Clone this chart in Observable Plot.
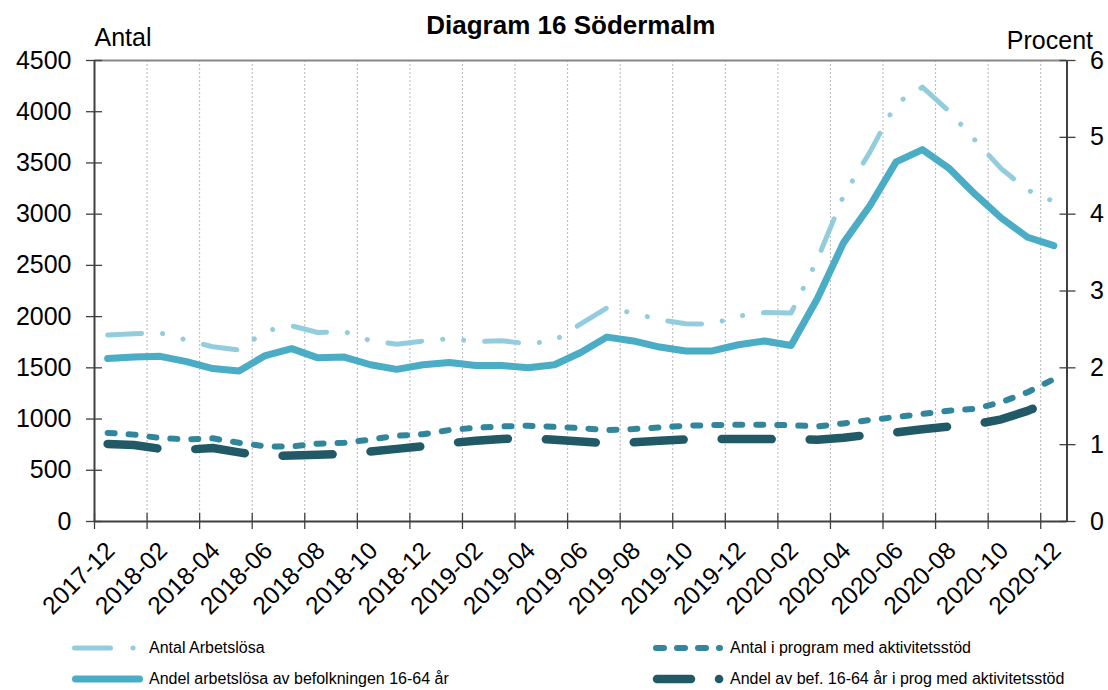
<!DOCTYPE html>
<html><head><meta charset="utf-8">
<script src="https://cdn.jsdelivr.net/npm/d3@7"></script>
<script src="https://cdn.jsdelivr.net/npm/@observablehq/plot@0.6"></script>
<style>
body{margin:0;background:#fff;font-family:"Liberation Sans",Arial,sans-serif;}
#wrap{position:relative;width:1108px;height:690px;overflow:hidden;background:#fff;}
#chart{position:absolute;left:0;top:0;}
.leg{position:absolute;height:20px;display:flex;align-items:center;font-size:16px;color:#000;white-space:nowrap;}
</style></head><body>
<div id="wrap"><div id="chart"></div></div>
<script>
const months = ["2017-12","2018-01","2018-02","2018-03","2018-04","2018-05","2018-06","2018-07","2018-08","2018-09","2018-10","2018-11","2018-12",
  "2019-01","2019-02","2019-03","2019-04","2019-05","2019-06","2019-07","2019-08","2019-09","2019-10","2019-11","2019-12",
  "2020-01","2020-02","2020-03","2020-04","2020-05","2020-06","2020-07","2020-08","2020-09","2020-10","2020-11","2020-12"];
const antalArbetslosa = [1821,1833,1840,1772,1706,1674,1860,1910,1845,1855,1765,1730,1762,1785,1755,1765,1735,1766,1929,2085,2035,1970,1930,1928,2005,2040,2035,2556,3181,3606,4080,4240,4008,3722,3443,3235,3123];
const antalProgram = [865,848,815,802,812,768,734,732,760,768,800,837,852,893,915,928,935,924,912,893,902,918,935,941,944,944,940,928,957,990,1020,1050,1081,1100,1165,1262,1390];
const andelArbetslosa = [2.12,2.14,2.15,2.08,1.99,1.96,2.16,2.25,2.13,2.14,2.04,1.98,2.04,2.07,2.03,2.03,2.00,2.04,2.20,2.40,2.35,2.27,2.22,2.22,2.30,2.35,2.29,2.90,3.63,4.11,4.68,4.84,4.60,4.26,3.95,3.70,3.59];
const andelProgram = [1.01,0.995,0.946,0.935,0.956,0.90,0.85,0.858,0.87,0.88,0.91,0.945,0.98,1.02,1.05,1.075,1.08,1.065,1.04,1.02,1.03,1.05,1.068,1.073,1.073,1.073,1.07,1.065,1.09,1.13,1.16,1.20,1.235,1.265,1.33,1.44,1.58];
const leftTicks = [0,500,1000,1500,2000,2500,3000,3500,4000,4500];
const rightTicks = [0,1,2,3,4,5,6];
const seriesNames = ["Antal Arbetslösa","Antal i program med aktivitetsstöd","Andel arbetslösa av befolkningen 16-64 år","Andel av bef. 16-64 år i prog med aktivitetsstöd"];
const titleText = "Diagram 16 Södermalm";
const leftLabel = "Antal";
const rightLabel = "Procent";

const colors = ["#93CDDD","#31869B","#4BACC6","#215967"];
const dashes = ["34,21,0.1,21,0.1,21","7,14",null,"50,38"];
const widths = [5,6,7,8.5];

const leftMax = leftTicks[leftTicks.length-1];
const rightMax = rightTicks[rightTicks.length-1];
const k = leftMax / rightMax;

const rows = months.map((m,i)=>({i, m, a: antalArbetslosa[i], p: antalProgram[i], s: andelArbetslosa[i]*k, q: andelProgram[i]*k}));
const boundaries = rows.filter(d => d.i % 2 === 0).map(d => d.i - 0.5);
const labelRows = rows.filter(d => d.i % 2 === 0);
const xDomain = [-0.5, months.length - 0.5];
const axisColor = "#404040";
const font = "Liberation Sans, Arial, sans-serif";

const lineOpts = (j) => ({x:"i", stroke: colors[j], strokeWidth: widths[j], strokeDasharray: dashes[j], strokeLinecap:"round", strokeLinejoin:"round"});

const plot = Plot.plot({
  width: 1108, height: 632,
  marginLeft: 94, marginRight: 41.5, marginTop: 60, marginBottom: 111,
  style: {fontFamily: font, background: "#fff", color: "#000", overflow: "visible"},
  x: {type: "linear", domain: xDomain, label: null},
  y: {domain: [0, leftMax], label: null},
  marks: [
    Plot.ruleX(boundaries.slice(1), {stroke: "#b8b8b8", strokeDasharray: "2,2", strokeWidth: 1}),
    Plot.ruleY([leftMax], {stroke: "#888", strokeWidth: 2}),
    Plot.line(rows, {...lineOpts(0), y:"a"}),
    Plot.line(rows, {...lineOpts(1), y:"p"}),
    Plot.line(rows, {...lineOpts(2), y:"s"}),
    Plot.line(rows, {...lineOpts(3), y:"q"}),
    Plot.ruleX(xDomain, {stroke: axisColor, strokeWidth: 2}),
    Plot.ruleY([0], {stroke: axisColor, strokeWidth: 2}),
    Plot.axisX(boundaries, {anchor:"bottom", label:null, tickSize:16, dy:-8, tickFormat: () => "", stroke: axisColor, strokeWidth:1.3}),
    Plot.axisY(leftTicks, {anchor:"left", label:null, tickSize:16, dx:8, tickPadding:15, fontSize:25, stroke: axisColor, strokeWidth:1.3, tickFormat: d3.format("d"), fill:"#000"}),
    Plot.axisY(rightTicks.map(v => v*k), {anchor:"right", label:null, tickSize:16, dx:-8, tickPadding:15, fontSize:25, stroke: axisColor, strokeWidth:1.3, tickFormat: v => String(Math.round(v/k)), fill:"#000"}),
    Plot.text(labelRows, {x:"i", text:"m", frameAnchor:"bottom", dy:25, dx:3, rotate:-45, textAnchor:"end", lineAnchor:"middle", fontSize:24.5, fill:"#000"}),
    Plot.text([leftLabel], {frameAnchor:"top-left", dy:-15, textAnchor:"start", lineAnchor:"bottom", fontSize:25, fill:"#000"}),
    Plot.text([rightLabel], {frameAnchor:"top-right", dx:26, dy:-12, textAnchor:"end", lineAnchor:"bottom", fontSize:25, fill:"#000"}),
    Plot.text([titleText], {frameAnchor:"top", dx:-10, dy:-27, textAnchor:"middle", lineAnchor:"bottom", fontSize:26, fontWeight:"bold", fill:"#000"})
  ]
});
document.getElementById("chart").appendChild(plot);

// Legend
const legendItems = [
  {j:0, left:66, top:638, x1:8.5, x2:75, dash:"36,22.5,0.1,200", text:149},
  {j:1, left:650, top:638, x1:6, x2:70, dash:"8,13", text:730},
  {j:2, left:66, top:669, x1:9.5, x2:73.5, dash:null, text:149},
  {j:3, left:650, top:669, x1:7, x2:70, dash:"34,28,0.1,200", text:730}
];
const wrap = document.getElementById("wrap");
legendItems.forEach(it => {
  const svg = d3.create("svg").attr("width", 90).attr("height", 20)
    .style("position","absolute").style("left", it.left+"px").style("top", it.top+"px").style("overflow","visible");
  svg.append("line").attr("x1", it.x1).attr("x2", it.x2).attr("y1", 10).attr("y2", 10)
    .attr("stroke", colors[it.j]).attr("stroke-width", widths[it.j]).attr("stroke-linecap","round")
    .attr("stroke-dasharray", it.dash);
  wrap.appendChild(svg.node());
  const t = document.createElement("div");
  t.className = "leg";
  t.style.left = it.text + "px";
  t.style.top = it.top + "px";
  t.textContent = seriesNames[it.j];
  wrap.appendChild(t);
});
</script>
</body></html>
